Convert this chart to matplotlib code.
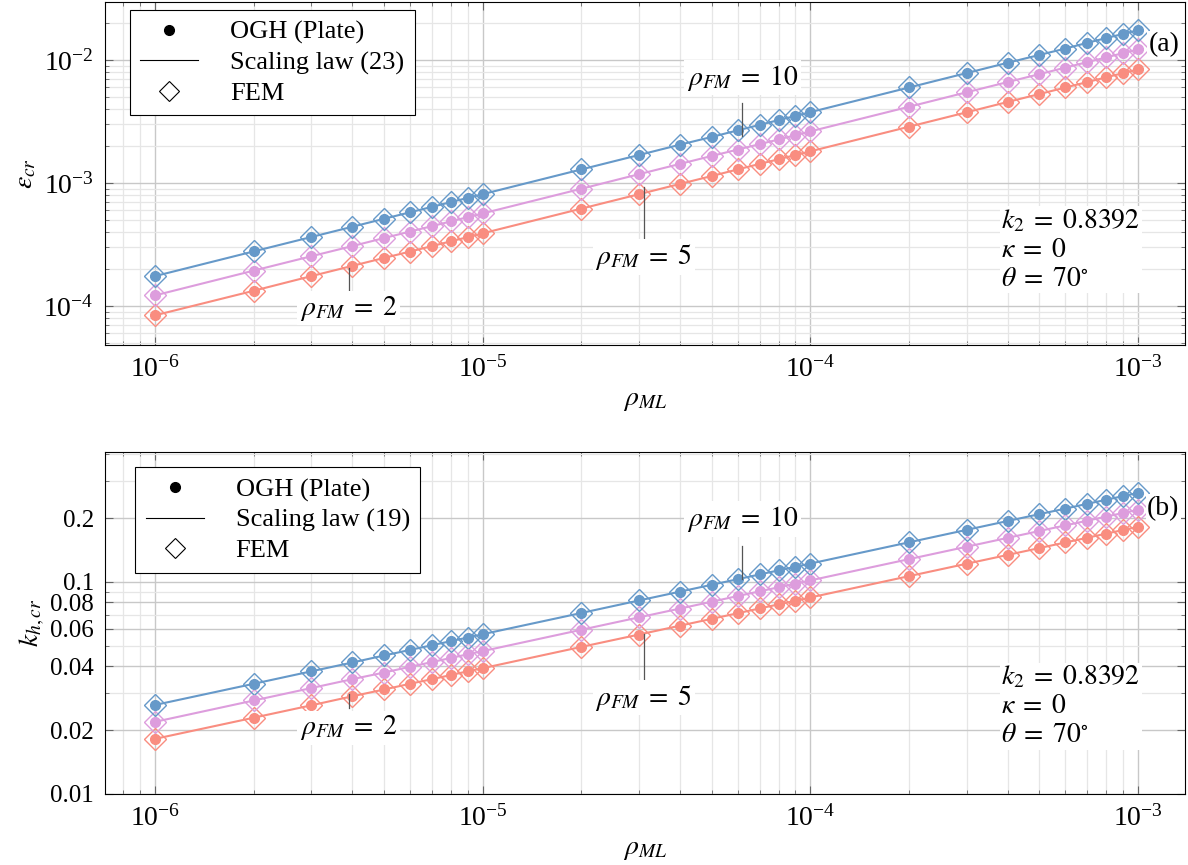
import numpy as np
import matplotlib
matplotlib.use("Agg")
from matplotlib import pyplot as plt
from matplotlib.lines import Line2D
from matplotlib.ticker import LogLocator, NullFormatter, FixedLocator, FixedFormatter

plt.rcParams['font.family'] = ['Liberation Serif', 'DejaVu Serif']
plt.rcParams['mathtext.fontset'] = 'stix'
plt.rcParams['font.size'] = 19

#%% data
rho_ml = [1e-6, 2e-6, 3e-6, 4e-6, 5e-6, 6e-6, 7e-6, 8e-6, 9e-6,
          1e-5, 2e-5, 3e-5, 4e-5, 5e-5, 6e-5, 7e-5, 8e-5, 9e-5,
          1e-4, 2e-4, 3e-4, 4e-4, 5e-4, 6e-4, 7e-4, 8e-4, 9e-4, 1e-3]

# (a) critical strain
eps_fm10 = [1.75e-4, 2.78e-4, 3.64e-4, 4.41e-4, 5.12e-4, 5.78e-4, 6.40e-4, 7.00e-4, 7.57e-4,
            8.12e-4, 1.29e-3, 1.69e-3, 2.05e-3, 2.37e-3, 2.68e-3, 2.97e-3, 3.25e-3, 3.51e-3,
            3.77e-3, 5.98e-3, 7.84e-3, 9.50e-3, 1.10e-2, 1.24e-2, 1.38e-2, 1.51e-2, 1.63e-2, 1.75e-2]
eps_fm5 = [1.22e-4, 1.94e-4, 2.54e-4, 3.07e-4, 3.57e-4, 4.03e-4, 4.46e-4, 4.88e-4, 5.28e-4,
           5.66e-4, 8.98e-4, 1.18e-3, 1.43e-3, 1.66e-3, 1.87e-3, 2.07e-3, 2.26e-3, 2.45e-3,
           2.63e-3, 4.17e-3, 5.47e-3, 6.62e-3, 7.68e-3, 8.68e-3, 9.62e-3, 1.05e-2, 1.14e-2, 1.22e-2]
eps_fm2 = [8.4e-5, 1.33e-4, 1.75e-4, 2.12e-4, 2.46e-4, 2.77e-4, 3.07e-4, 3.36e-4, 3.63e-4,
           3.90e-4, 6.19e-4, 8.11e-4, 9.83e-4, 1.14e-3, 1.29e-3, 1.43e-3, 1.56e-3, 1.69e-3,
           1.81e-3, 2.87e-3, 3.76e-3, 4.56e-3, 5.29e-3, 5.98e-3, 6.62e-3, 7.24e-3, 7.83e-3, 8.4e-3]

# (b) critical wavenumber
kh_fm10 = [0.0263, 0.0331, 0.0379, 0.0417, 0.0450, 0.0478, 0.0503, 0.0526, 0.0547,
           0.0567, 0.0714, 0.0818, 0.0900, 0.0970, 0.1030, 0.1085, 0.1134, 0.1179,
           0.1221, 0.1538, 0.1761, 0.1938, 0.2088, 0.2218, 0.2336, 0.2442, 0.2540, 0.263]
kh_fm5 = [0.0219, 0.0276, 0.0316, 0.0348, 0.0374, 0.0398, 0.0419, 0.0438, 0.0456,
          0.0472, 0.0595, 0.0681, 0.0749, 0.0807, 0.0858, 0.0903, 0.0944, 0.0982,
          0.1017, 0.1281, 0.1466, 0.1614, 0.1739, 0.1848, 0.1945, 0.2034, 0.2115, 0.219]
kh_fm2 = [0.0182, 0.0229, 0.0262, 0.0289, 0.0311, 0.0331, 0.0348, 0.0364, 0.0379,
          0.0392, 0.0494, 0.0565, 0.0622, 0.0670, 0.0712, 0.0750, 0.0784, 0.0815,
          0.0845, 0.1065, 0.1219, 0.1341, 0.1445, 0.1535, 0.1616, 0.1690, 0.1758, 0.182]

colors = ['#f98d80', '#dd9ddd', '#6699c9']  # rho_FM = 2, 5, 10
info = '$k_2\\;=\\;0.8392$\n$\\kappa\\;=\\;0$\n$\\theta\\;=\\;70^{\\circ}$'

#%%
fig = plt.figure(figsize=(11.88, 8.65), dpi=100)
ax1 = fig.add_axes([0.0884, 0.6012, 0.909, 0.3965])
ax2 = fig.add_axes([0.0884, 0.0821, 0.909, 0.3954])


def draw(ax, series):
    for ys, c in zip(series, colors):
        ax.plot(rho_ml, ys, '-', color=c, lw=1.5, zorder=3)
        ax.plot(rho_ml, ys, 'D', ms=11.5, mfc='none', mec=c, mew=1.0, zorder=4)
        ax.plot(rho_ml, ys, 'o', ms=7, color=c, zorder=5)
    ax.set_xscale('log')
    ax.set_yscale('log')
    ax.set_xlim(10**-6.153, 10**-2.857)
    ax.xaxis.set_minor_locator(LogLocator(base=10, subs=np.arange(2, 10)))
    ax.xaxis.set_minor_formatter(NullFormatter())
    ax.grid(True, which='major', color='#c8c8c8', lw=1.0, zorder=0)
    ax.grid(True, which='minor', color='#e6e6e6', lw=0.9, zorder=0)
    ax.tick_params(which='both', direction='in', top=True, right=True, color='#666666')
    ax.tick_params(which='major', length=6, labelsize=20, pad=8)
    ax.tick_params(which='minor', length=3)
    ax.set_xlabel('$\\rho_{ML}$', fontsize=20, labelpad=4)
    handles = [Line2D([], [], ls='none', marker='o', ms=7, color='k'),
               Line2D([], [], color='k', lw=0.8),
               Line2D([], [], ls='none', marker='D', ms=10, mfc='none', mec='k', mew=0.8)]
    return handles


def legend(ax, h, law, anchor):
    leg = ax.legend(h, ['OGH (Plate)', law, 'FEM'], loc='upper left',
                    bbox_to_anchor=anchor, borderaxespad=0, fancybox=False,
                    edgecolor='k', framealpha=1, fontsize=19, handlelength=2.2,
                    labelspacing=0.25, borderpad=0.4, handletextpad=1.2)
    leg.get_frame().set_linewidth(0.8)
    leg.set_zorder(10)


h = draw(ax1, [eps_fm2, eps_fm5, eps_fm10])
ax1.set_ylim(10**-4.317, 10**-1.528)
ax1.yaxis.set_minor_formatter(NullFormatter())
ax1.set_ylabel('$\\varepsilon_{cr}$', fontsize=20)
legend(ax1, h, 'Scaling law (23)', (0.023, 0.977))

h = draw(ax2, [kh_fm2, kh_fm5, kh_fm10])
ax2.set_ylim(0.01, 10**-0.387)
ax2.yaxis.set_major_locator(FixedLocator([0.01, 0.02, 0.04, 0.06, 0.08, 0.1, 0.2]))
ax2.yaxis.set_major_formatter(FixedFormatter(['0.01', '0.02', '0.04', '0.06', '0.08', '0.1', '0.2']))
ax2.yaxis.set_minor_locator(FixedLocator([0.03, 0.05, 0.07, 0.09, 0.3, 0.4]))
ax2.yaxis.set_minor_formatter(NullFormatter())
ax2.tick_params(axis='y', which='major', labelsize=18)
ax2.set_ylabel('$k_{h,cr}$', fontsize=20, labelpad=2)
legend(ax2, h, 'Scaling law (19)', (0.028, 0.955))

# annotations: (x of pointer, line y0, line y1, text y, rho_FM)
ann_top = [(3.9e-6, 2.05e-4, 1.35e-4, 9.6e-5, '2'),
           (3.1e-5, 9.2e-4, 3.6e-4, 2.5e-4, '5'),
           (6.2e-5, 2.4e-3, 4.5e-3, 7.2e-3, '10')]
ann_bot = [(3.9e-6, 0.0295, 0.0255, 0.0205, '2'),
           (3.1e-5, 0.057, 0.034, 0.0285, '5'),
           (6.2e-5, 0.103, 0.147, 0.198, '10')]
for ax, anns, tag in [(ax1, ann_top, '(a)'), (ax2, ann_bot, '(b)')]:
    for x, y0, y1, yt, lab in anns:
        ax.plot([x, x], [y0, y1], color='#555555', lw=0.9, zorder=6)
        ax.text(x, yt, '$\\rho_{FM}\\;=\\;%s$' % lab, ha='center', va='center', fontsize=20,
                zorder=7, bbox=dict(facecolor='white', edgecolor='none', pad=2))
    ax.text(0.83, 0.40 if ax is ax1 else 0.38, info, transform=ax.transAxes, ha='left',
            va='top', fontsize=20, linespacing=1.2, zorder=7,
            bbox=dict(facecolor='white', edgecolor='none', pad=1))
    ax.text(0.995, 0.875 if ax is ax1 else 0.835, tag, transform=ax.transAxes, ha='right',
            va='center', fontsize=20, zorder=7,
            bbox=dict(facecolor='white', edgecolor='none', pad=1))

fig.savefig('out.png', dpi=100)
